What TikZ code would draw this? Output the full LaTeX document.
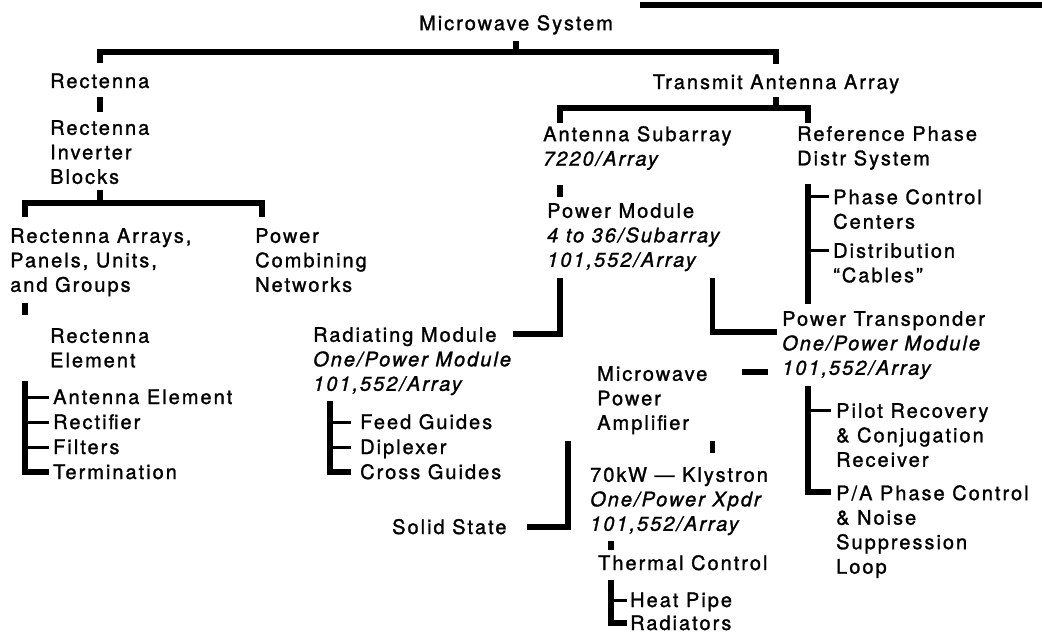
\documentclass[tikz,border=0pt]{standalone}
\usepackage{fontspec}
\setmainfont{TeX Gyre Heros}[LetterSpace=10, FakeBold=1.3]
\usepackage{tikz}

\begin{document}
\begin{tikzpicture}[
  x=1pt, y=-1pt,
  every node/.style={font=\fontsize{20}{24.5}\selectfont, inner sep=0pt},
  blk/.style={anchor=north west, align=left},
  itm/.style={anchor=west, text height=14pt, text depth=0pt},
  bar/.style={line width=5.5pt},
  twig/.style={line width=3pt}
]
  \useasboundingbox (0,0) rectangle (1042,634);
  \draw[bar] (640,5) -- (1042,5);

  \node[blk, anchor=north] (ms) at (516,15) {Microwave System};
  \node[itm] (rect) at (50,81) {Rectenna};
  \node[blk] (rib) at (50,120) {Rectenna\\Inverter\\Blocks};
  \node[blk] (rarr) at (10,228) {Rectenna Arrays,\\Panels, Units,\\and Groups};
  \node[blk] (pcn) at (255,228) {Power\\Combining\\Networks};
  \node[blk] (relem) at (50,328) {Rectenna\\Element};
  \node[itm] (antel) at (53,397) {Antenna Element};
  \node[itm] (rectif) at (53,422) {Rectifier};
  \node[itm] (filt) at (53,447) {Filters};
  \node[itm] (term) at (53,472) {Termination};

  \node[itm, anchor=center] (taa) at (776,82) {Transmit Antenna Array};
  \node[blk] (asub) at (543,126) {Antenna Subarray\\\textit{7220/Array}};
  \node[blk] (rp) at (797,126) {Reference Phase\\Distr System};
  \node[blk] (pcc) at (833,189) {Phase Control\\Centers};
  \node[blk] (dist) at (833,243) {Distribution\\“Cables”};
  \node[blk] (pm) at (547,203) {Power Module\\\textit{4 to 36/Subarray}\\\textit{101,552/Array}};
  \node[blk] (rm) at (313,327) {Radiating Module\\\textit{One/Power Module}\\\textit{101,552/Array}};
  \node[itm] (feed) at (360,422) {Feed Guides};
  \node[itm] (dipl) at (360,447) {Diplexer};
  \node[itm] (cross) at (360,472) {Cross Guides};
  \node[blk] (pt) at (782,311) {Power Transponder\\\textit{One/Power Module}\\\textit{101,552/Array}};
  \node[blk] (mpa) at (597,366) {Microwave\\Power\\Amplifier};
  \node[blk] (kly) at (590,467) {70kW — Klystron\\\textit{One/Power Xpdr}\\\textit{101,552/Array}};
  \node[itm] (ss) at (392,527) {Solid State};
  \node[itm] (tc) at (598,563) {Thermal Control};
  \node[itm] (hp) at (630,600) {Heat Pipe};
  \node[itm] (rad) at (630,623) {Radiators};
  \node[blk] (pilot) at (836,403) {Pilot Recovery\\\& Conjugation\\Receiver};
  \node[blk] (pa) at (836,485) {P/A Phase Control\\\& Noise\\Suppression\\Loop};

  \coordinate (topbar) at (0,52);
  \coordinate (ribbar) at (0,203);
  \coordinate (taabar) at (0,108);
  \coordinate (rarr-in) at ([xshift=15pt]rarr.north west);
  \coordinate (pcn-in) at ([xshift=7pt]pcn.north west);
  \coordinate (as-in) at ([xshift=17pt]asub.north west);
  \coordinate (rp-in) at ([xshift=11pt]rp.north west);
  \coordinate (pcc-w) at ([shift={(-4pt,-7pt)}]pcc.north west);
  \coordinate (dist-w) at ([shift={(-4pt,-7pt)}]dist.north west);
  \coordinate (pm-l) at ([xshift=13pt]pm.south west);
  \coordinate (pm-r) at ([xshift=-10pt]pm.south east);
  \coordinate (rm-e) at ([shift={(200pt,-7pt)}]rm.north west);
  \coordinate (rm-in) at ([xshift=17pt]rm.south west);
  \coordinate (pt-w) at ([shift={(-5pt,-21pt)}]pt.north west);
  \coordinate (pt-l3) at ([yshift=-61pt]pt.north west);
  \coordinate (mpa-l) at ([xshift=-29pt]mpa.south west);
  \coordinate (tc-in) at ([xshift=13pt]tc.north west);
  \coordinate (pilot-w) at ([shift={(-5pt,-7pt)}]pilot.north west);
  \coordinate (pa-w) at ([shift={(-5pt,-7pt)}]pa.north west);

  % rectenna side
  \draw[bar, shorten <=6pt] (ms.south) -- (ms.south |- topbar);
  \draw[bar] ([yshift=11pt]rect.north) |- (taa.north |- topbar) -- ([yshift=11pt]taa.north);
  \draw[bar, shorten <=9pt, shorten >=8pt] (rect.south) -- (rect.south |- rib.north);
  \draw[bar, shorten <=6pt] (rib.south) -- (rib.south |- ribbar);
  \draw[bar, shorten <=11pt, shorten >=11pt] (rarr-in) |- (pcn-in |- ribbar) -- (pcn-in);
  \draw[bar, shorten <=7pt, shorten >=13pt] (rarr-in |- rarr.south) -- (rarr-in |- relem.north);
  \draw[bar, shorten <=13pt] (rarr-in |- relem.south) |- ([xshift=-4pt]term.west);
  \foreach \n in {antel,rectif,filt}
    \draw[twig] (rarr-in |- \n.west) -- ([xshift=-4pt]\n.west);

  % transmit antenna side
  \draw[bar, shorten <=8pt] (taa.south) -- (taa.south |- taabar);
  \draw[bar, shorten <=3pt, shorten >=3pt] (as-in) |- (rp-in |- taabar) -- (rp-in);
  \draw[bar, shorten <=15pt, shorten >=6pt] (as-in |- asub.south) -- (as-in |- pm.north);
  \draw[bar, shorten <=14pt, shorten >=7pt] (rp-in |- rp.south) -- (rp-in |- pt.north);
  \draw[twig] (rp-in |- pcc-w) -- (pcc-w);
  \draw[twig] (rp-in |- dist-w) -- (dist-w);
  \draw[bar, shorten <=7pt] (pm-l) |- (rm-e);
  \draw[bar, shorten <=7pt] (pm-r) |- (pt-w);
  \draw[bar, shorten <=6pt] (rm-in) |- ([xshift=-9pt]cross.west);
  \foreach \n in {feed,dipl}
    \draw[twig] (rm-in |- \n.west) -- ([xshift=-9pt]\n.west);
  \draw[bar, shorten <=14pt, shorten >=34pt] (pt-l3) -- (mpa.east |- pt-l3);
  \draw[bar, shorten <=7pt] (rp-in |- pt.south) |- (pa-w);
  \draw[twig] (rp-in |- pilot-w) -- (pilot-w);
  \draw[bar, shorten <=7pt, shorten >=14pt] (pm-r |- mpa.south) -- (pm-r |- kly.north);
  \draw[bar, shorten <=7pt] (mpa-l) |- ([xshift=20pt]ss.east);
  \draw[bar, shorten <=6pt, shorten >=6pt] (tc-in |- kly.south) -- (tc-in);
  \draw[bar, shorten <=10pt] (tc-in |- tc.south) |- ([xshift=-3pt]rad.west);
  \draw[twig] (tc-in |- hp.west) -- ([xshift=-3pt]hp.west);
\end{tikzpicture}
\end{document}
